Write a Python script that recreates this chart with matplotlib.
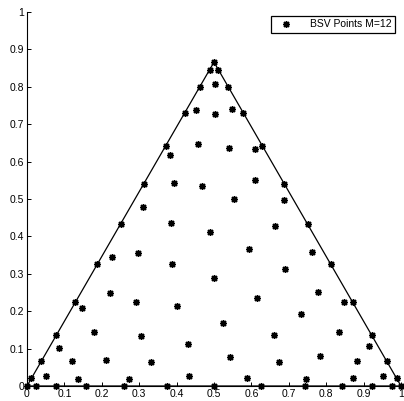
import matplotlib
matplotlib.use("Agg")
import matplotlib.pyplot as plt

plt.rcParams['font.family'] = ['Liberation Sans', 'DejaVu Sans']

# Triangle outline vertices
tri_x = [0.0, 1.0, 0.5, 0.0]
tri_y = [0.0, 0.0, 0.866, 0.0]

# BSV points (M=12)
bsv_x = [
    # bottom edge
    0.0, 0.023, 0.077, 0.157, 0.259, 0.375, 0.5, 0.625, 0.742, 0.843, 0.923, 0.977, 1.0,
    # left edge
    0.0117, 0.0384, 0.0785, 0.1293, 0.1877, 0.25, 0.3123, 0.3708, 0.4216, 0.4616, 0.4884,
    # right edge
    0.9883, 0.9616, 0.9215, 0.8707, 0.8123, 0.75, 0.6877, 0.6292, 0.5784, 0.5384, 0.5116,
    # apex
    0.5,
    # interior
    0.502, 0.452, 0.548, 0.502, 0.383, 0.457, 0.539, 0.609,
    0.393, 0.468, 0.609, 0.310, 0.553, 0.688, 0.385, 0.489, 0.664,
    0.227, 0.298, 0.388, 0.593, 0.763, 0.500, 0.689,
    0.146, 0.221, 0.292, 0.400, 0.616, 0.779, 0.848,
    0.733, 0.524, 0.180, 0.304, 0.660, 0.835,
    0.086, 0.431, 0.915,
    0.120, 0.211, 0.332, 0.544, 0.675, 0.784, 0.882,
    0.050, 0.137, 0.274, 0.432, 0.588, 0.747, 0.871, 0.953,
]
bsv_y = [
    0.0, 0.0, 0.0, 0.0, 0.0, 0.0, 0.0, 0.0, 0.0, 0.0, 0.0, 0.0, 0.0,
    0.0202, 0.0665, 0.1359, 0.2239, 0.3251, 0.433, 0.5409, 0.6421, 0.7301, 0.7995, 0.8458,
    0.0202, 0.0665, 0.1359, 0.2239, 0.3251, 0.433, 0.5409, 0.6421, 0.7301, 0.7995, 0.8458,
    0.866,
    0.808, 0.737, 0.741, 0.727, 0.618, 0.648, 0.637, 0.634,
    0.544, 0.536, 0.550, 0.479, 0.499, 0.497, 0.437, 0.412, 0.428,
    0.344, 0.356, 0.326, 0.366, 0.357, 0.289, 0.313,
    0.208, 0.250, 0.225, 0.214, 0.236, 0.252, 0.225,
    0.193, 0.168, 0.145, 0.134, 0.137, 0.145,
    0.101, 0.112, 0.107,
    0.066, 0.069, 0.064, 0.077, 0.063, 0.080, 0.068,
    0.028, 0.020, 0.020, 0.026, 0.021, 0.020, 0.021, 0.028,
]

x_ticks = [0, 0.1, 0.2, 0.3, 0.4, 0.5, 0.6, 0.7, 0.8, 0.9, 1]
y_ticks = [0, 0.1, 0.2, 0.3, 0.4, 0.5, 0.6, 0.7, 0.8, 0.9, 1]
tick_labels = ['0', '0.1', '0.2', '0.3', '0.4', '0.5', '0.6', '0.7', '0.8', '0.9', '1']

fig = plt.figure(figsize=(4.04, 4.01), dpi=100)
ax = fig.add_axes([27/404, 15/401, 374/404, 374/401])

ax.plot(tri_x, tri_y, color='black', linewidth=0.9, clip_on=False)
ax.plot(bsv_x, bsv_y, linestyle='none', marker=(8, 2, 0), markersize=5,
        markeredgewidth=1.0, color='black', clip_on=False,
        label='BSV Points M=12')

ax.set_xlim(0, 1)
ax.set_ylim(0, 1)
ax.set_xticks(x_ticks)
ax.set_xticklabels(tick_labels)
ax.set_yticks(y_ticks)
ax.set_yticklabels(tick_labels)
ax.tick_params(direction='in', length=3, width=0.7, labelsize=7.5, pad=2)
ax.spines['top'].set_visible(False)
ax.spines['right'].set_visible(False)
ax.spines['left'].set_linewidth(0.8)
ax.spines['bottom'].set_linewidth(0.8)

leg = ax.legend(loc='upper right', bbox_to_anchor=(0.985, 0.99), fontsize=7.5,
                frameon=True, fancybox=False, framealpha=1, edgecolor='black',
                borderpad=0.35, handlelength=2.2, handletextpad=1.2, borderaxespad=0)
leg.get_frame().set_linewidth(0.9)

fig.savefig('out.png', dpi=100)
